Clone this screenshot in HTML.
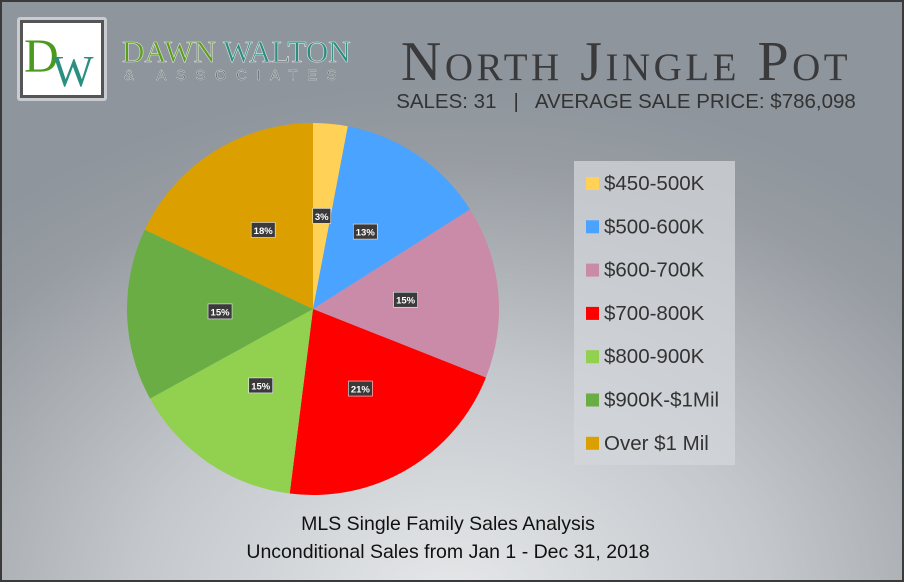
<!DOCTYPE html>
<html><head><meta charset="utf-8"><style>
html,body{margin:0;padding:0;}
body{width:904px;height:582px;overflow:hidden;font-family:"Liberation Sans",sans-serif;}
#wrap{position:absolute;left:0;top:0;width:900px;height:578px;border:2px solid #3a3a3a;
background:radial-gradient(ellipse 700px 520px at 450px 600px,#e6e8ea 0%,#c4c8cc 45%,#979ca2 85%,#8e959c 100%);}
</style></head><body>
<div id="wrap">
<svg width="900" height="578" viewBox="2 2 900 578" xmlns="http://www.w3.org/2000/svg">
 <g>
  <rect x="17" y="17" width="90" height="84" fill="#c8cbcf" rx="3"/>
  <rect x="20" y="20" width="84" height="78" fill="#555"/>
  <rect x="23" y="23" width="78" height="72" fill="#fff"/>
  <text x="24" y="72" font-family="Liberation Serif,serif" font-size="48" fill="#4a9a1e">D</text>
  <text x="52" y="86" font-family="Liberation Serif,serif" font-size="44" fill="#2a8f80">W</text>
  <text x="122" y="62" font-family="Liberation Serif,serif" font-size="31" fill="#5a9e1a" stroke="#e0e2e4" stroke-width="0.6">DAWN <tspan fill="#2a8f80">WALTON</tspan></text>
  <text x="124" y="80" font-family="Liberation Sans,sans-serif" font-size="15" fill="#6a6e72" stroke="#d8dadc" stroke-width="0.4" letter-spacing="9.5">&amp; ASSOCIATES</text>
 </g>
 <text x="626" y="80" text-anchor="middle" font-family="Liberation Serif,serif" font-size="56" font-variant="small-caps" fill="#3a3a3d" letter-spacing="3.5">North Jingle Pot</text>
 <text x="626" y="108" text-anchor="middle" font-size="20.5" fill="#333" xml:space="preserve" style="white-space:pre">SALES: 31   |   AVERAGE SALE PRICE: $786,098</text>
 <g id="pie"></g>
 <rect x="574" y="161" width="161" height="304" fill="#d3d6d9" opacity="0.75"/>
 <g id="legend"></g>
 <text x="448" y="530" text-anchor="middle" font-size="19.5" fill="#111">MLS Single Family Sales Analysis</text>
 <text x="448" y="558" text-anchor="middle" font-size="19.5" fill="#111">Unconditional Sales from Jan 1 - Dec 31, 2018</text>
</svg>
</div>
<script>
const categories=["$450-500K","$500-600K","$600-700K","$700-800K","$800-900K","$900K-$1Mil","Over $1 Mil"];
const values=[3,13,15,21,15,15,18];
const labels=["3%","13%","15%","21%","15%","15%","18%"];
const colors=["#ffd257","#4aa3ff","#c98ba8","#ff0000","#92d050","#6aad45","#dba000"];
const NS="http://www.w3.org/2000/svg";
const cx=313,cy=309,R=186;
const total=values.reduce((a,b)=>a+b,0);
const pie=document.getElementById('pie');
function pt(a,r){return [cx+r*Math.sin(a),cy-r*Math.cos(a)];}
let acc=0;
values.forEach((v,i)=>{
 const a0=acc/total*2*Math.PI; acc+=v; const a1=acc/total*2*Math.PI;
 const p0=pt(a0,R),p1=pt(a1,R);
 const path=document.createElementNS(NS,'path');
 path.setAttribute('d',`M${cx},${cy}L${p0[0]},${p0[1]}A${R},${R} 0 ${a1-a0>Math.PI?1:0} 1 ${p1[0]},${p1[1]}Z`);
 path.setAttribute('fill',colors[i]);
 
 
 pie.appendChild(path);
});
acc=0;
values.forEach((v,i)=>{
 const am=(acc+v/2)/total*2*Math.PI; acc+=v;
 const p=pt(am,R*0.5);
 const w=labels[i].length*6+6;
 const g=document.createElementNS(NS,'g');
 
 
 const r=document.createElementNS(NS,'rect');
 r.setAttribute('x',p[0]-w/2);r.setAttribute('y',p[1]-8);r.setAttribute('width',w);r.setAttribute('height',15);
 r.setAttribute('fill','#3a3a3a');r.setAttribute('stroke','#eee');r.setAttribute('stroke-width','0.6');
 g.appendChild(r);
 const t=document.createElementNS(NS,'text');
 t.setAttribute('x',p[0]);t.setAttribute('y',p[1]+3.5);t.setAttribute('text-anchor','middle');
 t.setAttribute('font-size','9.5');t.setAttribute('font-weight','bold');t.setAttribute('fill','#fff');
 t.textContent=labels[i];
 g.appendChild(t);
 pie.appendChild(g);
});
const lg=document.getElementById('legend');
categories.forEach((c,i)=>{
 const y=183+i*43.3;
 const g=document.createElementNS(NS,'g');
 
 
 const r=document.createElementNS(NS,'rect');
 r.setAttribute('x',586);r.setAttribute('y',y-6);r.setAttribute('width',13);r.setAttribute('height',13);r.setAttribute('fill',colors[i]);
 g.appendChild(r);
 const t=document.createElementNS(NS,'text');
 t.setAttribute('x',604);t.setAttribute('y',y+7);t.setAttribute('font-size','20.5');t.setAttribute('fill','#333');
 t.textContent=c;
 g.appendChild(t);
 lg.appendChild(g);
});
</script>
</body></html>
